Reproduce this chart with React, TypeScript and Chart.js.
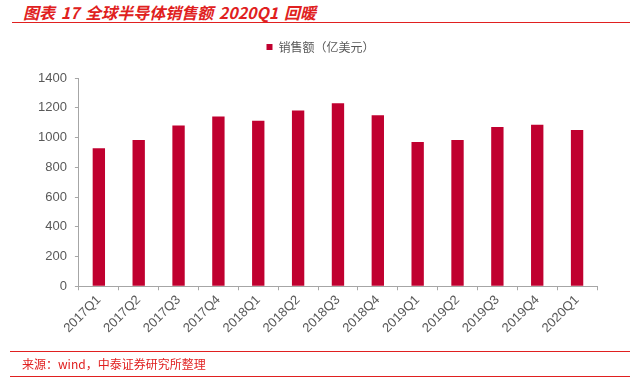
import React, { useEffect, useRef } from "react";
import { Chart, registerables } from "chart.js";

Chart.register(...registerables);

const categories = [
  "2017Q1", "2017Q2", "2017Q3", "2017Q4",
  "2018Q1", "2018Q2", "2018Q3", "2018Q4",
  "2019Q1", "2019Q2", "2019Q3", "2019Q4",
  "2020Q1",
];
const salesValues = [928, 984, 1080, 1142, 1113, 1182, 1230, 1150, 970, 984, 1070, 1086, 1050];
const seriesName = "销售额（亿美元）";
const titleText = "图表 17 全球半导体销售额 2020Q1 回暖";
const sourceText = "来源：wind，中泰证券研究所整理";

const RED = "#E02020";
const BAR = "#C0002F";
const AXIS = "#A6A6A6";
const LABEL = "#595959";

const legendSpace = {
  id: "legendSpace",
  beforeInit(chart: any) {
    const fit = chart.legend.fit;
    chart.legend.fit = function () {
      fit.bind(chart.legend)();
      this.height += 15;
    };
  },
  afterLayout(chart: any) {
    chart.legend.left += 7;
    chart.legend.right += 7;
  },
};

export default function App() {
  const ref = useRef<HTMLCanvasElement | null>(null);

  useEffect(() => {
    if (!ref.current) return;
    const chart = new Chart(ref.current, {
      type: "bar",
      data: {
        labels: categories,
        datasets: [
          {
            label: seriesName,
            data: salesValues,
            backgroundColor: BAR,
            borderWidth: 0,
            barPercentage: 0.31,
            categoryPercentage: 1,
          },
        ],
      },
      plugins: [legendSpace],
      options: {
        responsive: false,
        animation: false,
        layout: { padding: { top: 21, left: 30, right: 44, bottom: 51 } },
        plugins: {
          legend: {
            display: true,
            position: "top",
            labels: {
              boxWidth: 6,
              boxHeight: 6,
              padding: 20,
              color: LABEL,
              font: { family: "'Noto Sans CJK SC', sans-serif", size: 12 },
            },
          },
          tooltip: { enabled: false },
        },
        scales: {
          x: {
            grid: { drawOnChartArea: false, drawTicks: true, tickLength: 4, color: AXIS },
            border: { color: AXIS },
            ticks: {
              color: LABEL,
              minRotation: 45,
              maxRotation: 45,
              padding: 2,
              font: { family: "'Liberation Sans', Arial, sans-serif", size: 13 },
            },
          },
          y: {
            min: 0,
            max: 1400,
            grid: { drawOnChartArea: false, drawTicks: true, tickLength: 4, color: AXIS },
            border: { color: AXIS },
            ticks: {
              stepSize: 200,
              color: LABEL,
              padding: 8,
              callback: (v: any) => String(v),
              font: { family: "'Liberation Sans', Arial, sans-serif", size: 13 },
            },
          },
        },
      },
    });
    return () => chart.destroy();
  }, []);

  return (
    <div style={{ position: "fixed", left: 0, top: 0, width: 641, height: 389, background: "#fff" }}>
      <div
        style={{
          position: "absolute",
          left: 23,
          top: 2,
          fontFamily: "'Noto Sans CJK SC', sans-serif",
          fontWeight: 700,
          fontStyle: "italic",
          fontSize: 16,
          lineHeight: "20px",
          color: RED,
          whiteSpace: "pre",
          wordSpacing: 2,
        }}
      >
        {titleText}
      </div>
      <div style={{ position: "absolute", left: 12, top: 22, width: 618, height: 1, background: RED }} />
      <canvas ref={ref} width={641} height={389} style={{ position: "absolute", left: 0, top: 0 }} />
      <div style={{ position: "absolute", left: 10, top: 351, width: 620, height: 1, background: RED }} />
      <div
        style={{
          position: "absolute",
          left: 22,
          top: 356,
          fontFamily: "'Noto Sans CJK SC', sans-serif",
          fontSize: 12,
          lineHeight: "16px",
          color: RED,
          whiteSpace: "nowrap",
        }}
      >
        {sourceText}
      </div>
      <div style={{ position: "absolute", left: 10, top: 376, width: 620, height: 1, background: RED }} />
    </div>
  );
}
